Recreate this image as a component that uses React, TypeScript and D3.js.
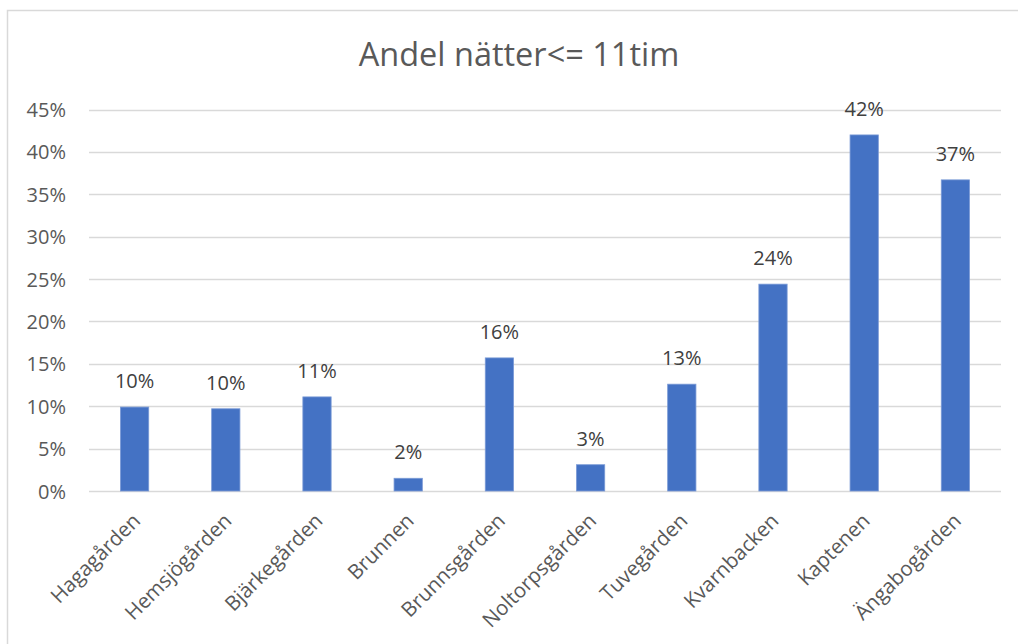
import { useEffect, useRef } from 'react';
import * as d3 from 'd3';

const categories = [
  'Hagagården',
  'Hemsjögården',
  'Bjärkegården',
  'Brunnen',
  'Brunnsgården',
  'Noltorpsgården',
  'Tuvegården',
  'Kvarnbacken',
  'Kaptenen',
  'Ängabogården',
];
const shares = [0.099, 0.097, 0.111, 0.015, 0.157, 0.031, 0.126, 0.244, 0.42, 0.367];
const yTicks = [0, 0.05, 0.1, 0.15, 0.2, 0.25, 0.3, 0.35, 0.4, 0.45];
const title = 'Andel nätter<= 11tim';

const W = 1018;
const H = 644;
const FONT = '"Open Sans", "Noto Sans", sans-serif';
const TEXT = '#595959';

export default function App() {
  const svgRef = useRef<SVGSVGElement>(null);

  useEffect(() => {
    if (!svgRef.current) return;
    const svg = d3.select(svgRef.current);
    svg.selectAll('*').remove();

    const left = 89;
    const right = 1001;
    const top = 109.5;
    const bottom = 491;

    svg.append('rect').attr('width', W).attr('height', H).attr('fill', '#fff');
    // chart border (runs off the page right and bottom)
    svg
      .append('rect')
      .attr('x', 7.5)
      .attr('y', 10.5)
      .attr('width', W + 20)
      .attr('height', H + 20)
      .attr('fill', 'none')
      .attr('stroke', '#d9d9d9')
      .attr('stroke-width', 1.5);

    svg
      .append('text')
      .attr('x', 519)
      .attr('y', 66)
      .attr('text-anchor', 'middle')
      .attr('font-family', FONT)
      .attr('font-size', 32.5)
      .attr('fill', TEXT)
      .text(title);

    const x = d3
      .scaleBand<string>()
      .domain(categories)
      .range([left, right])
      .paddingInner(0.69)
      .paddingOuter(0.345);

    const y = d3.scaleLinear().domain([0, 0.45]).range([bottom, top]);

    const g = svg.append('g');

    // gridlines
    g.selectAll('line.grid')
      .data(yTicks)
      .join('line')
      .attr('x1', left)
      .attr('x2', right)
      .attr('y1', (d) => Math.round(y(d)) + 0.5)
      .attr('y2', (d) => Math.round(y(d)) + 0.5)
      .attr('stroke', '#d9d9d9')
      .attr('stroke-width', 1.3);

    const yAxis = g
      .append('g')
      .attr('transform', `translate(${left},0)`)
      .call(
        d3
          .axisLeft(y)
          .tickValues(yTicks)
          .tickSize(0)
          .tickPadding(23)
          .tickFormat((d) => `${Math.round((d as number) * 100)}%`)
      );
    yAxis.select('.domain').remove();
    yAxis
      .selectAll('text')
      .attr('font-family', FONT)
      .attr('font-size', 20)
      .attr('fill', TEXT)
      .attr('dy', '0.35em');

    // bars
    g.selectAll('rect.bar')
      .data(shares)
      .join('rect')
      .attr('x', (_, i) => x(categories[i]) as number)
      .attr('width', x.bandwidth())
      .attr('y', (d) => y(d))
      .attr('height', (d) => bottom - y(d))
      .attr('fill', '#4472c4')
      .attr('stroke', '#7a9ad6')
      .attr('stroke-width', 0.8);

    // data labels
    g.selectAll('text.lbl')
      .data(shares)
      .join('text')
      .attr('x', (_, i) => (x(categories[i]) as number) + x.bandwidth() / 2)
      .attr('y', (d) => y(d) - 19)
      .attr('text-anchor', 'middle')
      .attr('font-family', FONT)
      .attr('font-size', 20)
      .attr('fill', '#404040')
      .text((d) => `${Math.round(d * 100)}%`);

    // category labels
    g.selectAll('text.cat')
      .data(categories)
      .join('text')
      .attr('transform', (d) => {
        const cx = (x(d) as number) + x.bandwidth() / 2 + 7;
        return `translate(${cx},${bottom + 31}) rotate(-45)`;
      })
      .attr('text-anchor', 'end')
      .attr('font-family', FONT)
      .attr('font-size', 20.5)
      .attr('fill', TEXT)
      .text((d) => d);
  }, []);

  return (
    <svg
      ref={svgRef}
      width={W}
      height={H}
      style={{ position: 'absolute', left: 0, top: 0, display: 'block' }}
    />
  );
}
